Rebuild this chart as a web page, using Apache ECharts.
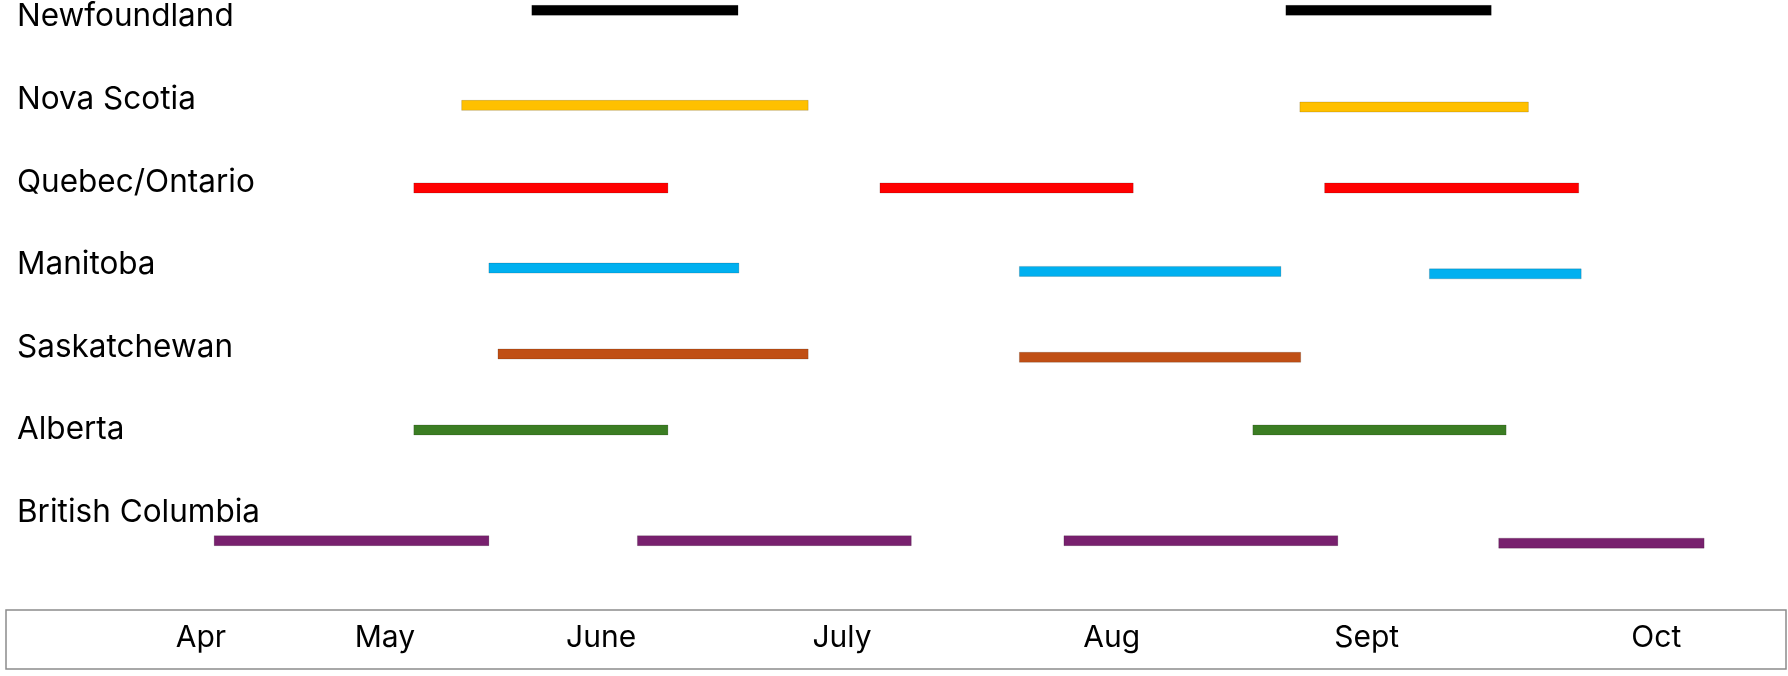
<!DOCTYPE html>
<html>
<head>
<meta charset="utf-8">
<script src="https://cdn.jsdelivr.net/npm/echarts@6/dist/echarts.min.js"></script>
<style>
html,body{margin:0;padding:0;background:#fff;}
#chart{width:1788px;height:676px;}
</style>
</head>
<body>
<div id="chart"></div>
<script>
// Row labels (top to bottom)
const provinces = ['Newfoundland','Nova Scotia','Quebec/Ontario','Manitoba','Saskatchewan','Alberta','British Columbia'];
const rowPos = [0,1,2,3,4,5,6];
const colors = ['#000000','#FFC000','#FF0000','#00B0F0','#C04F15','#3B7D23','#78206E'];

// Each period: [start day-of-year, end day-of-year, lane (row position)]
const newfoundland    = [[142.4,167.4,-0.05],[233.8,258.7,-0.05]];
const novaScotia      = [[133.9,175.9,1.10],[235.5,263.2,1.12]];
const quebecOntario   = [[128.1,158.9,2.10],[184.6,215.3,2.10],[238.5,269.3,2.10]];
const manitoba        = [[137.2,167.5,3.07],[201.5,233.2,3.11],[251.2,269.6,3.14]];
const saskatchewan    = [[138.3,175.9,4.11],[201.5,235.6,4.15]];
const alberta         = [[128.1,158.9,5.03],[229.8,260.5,5.03]];
const britishColumbia = [[103.9,137.2,6.37],[155.2,188.4,6.37],[206.9,240.1,6.37],[259.6,284.5,6.40]];

const seriesData = [newfoundland, novaScotia, quebecOntario, manitoba, saskatchewan, alberta, britishColumbia];

// Month tick labels and their positions (day-of-year)
const monthNames = ['Apr','May','June','July','Aug','Sept','Oct'];
const monthPos = [102.3,124.6,150.8,180.0,212.7,243.6,278.7];

const FONT = 'Inter';
const chart = echarts.init(document.getElementById('chart'), null, {renderer:'canvas'});

function nearestIdx(arr, v){
  let best = 0, bd = Infinity;
  arr.forEach((a,i)=>{ const d = Math.abs(a-v); if(d<bd){bd=d;best=i;} });
  return best;
}

const series = seriesData.map((data, i) => ({
  name: provinces[i],
  type: 'custom',
  clip: false,
  data: data,
  encode: {x:[0,1], y:2},
  renderItem: function(params, api){
    const s = api.coord([api.value(0), api.value(2)]);
    const e = api.coord([api.value(1), api.value(2)]);
    const h = 10;
    return {
      type:'rect',
      shape:{x:s[0], y:s[1]-h/2, width:e[0]-s[0], height:h},
      style:{fill: colors[i], stroke: 'rgba(0,0,0,0.25)', lineWidth: 0.6}
    };
  }
}));

chart.setOption({
  backgroundColor:'#ffffff',
  animation:false,
  grid:{left:17, width:1732.5, top:2.11, height:590.59, containLabel:false, outerBoundsMode:'none'},
  xAxis:{
    type:'value', min:80, max:290,
    axisLine:{show:false}, axisTick:{show:false}, splitLine:{show:false},
    axisLabel:{
      customValues: monthPos,
      formatter: v => monthNames[nearestIdx(monthPos, v)],
      margin: 45, verticalAlign:'middle',
      fontSize: 30, fontFamily: FONT, color:'#000'
    }
  },
  yAxis:{
    type:'value', inverse:true, min:-0.15, max:7,
    axisLine:{show:false}, axisTick:{show:false}, splitLine:{show:false},
    axisLabel:{
      customValues: rowPos,
      formatter: v => provinces[Math.round(v)],
      align:'left', margin:0, verticalAlign:'top', lineHeight:5,
      fontSize: 31.5, fontFamily: FONT, color:'#000'
    }
  },
  graphic:[{
    type:'rect', z:-1, silent:true,
    shape:{x:6, y:610, width:1780, height:59},
    style:{fill:'none', stroke:'#8c8c8c', lineWidth:1.5}
  }],
  series: series
});
</script>
</body>
</html>
